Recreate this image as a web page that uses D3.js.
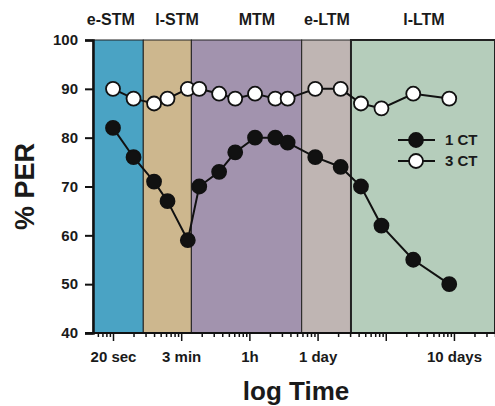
<!DOCTYPE html>
<html>
<head>
<meta charset="utf-8">
<script src="https://cdn.jsdelivr.net/npm/d3@7"></script>
<style>
  body { margin: 0; background: #fff; }
  svg text { font-family: "Liberation Sans", Arial, sans-serif; font-weight: bold; fill: #1a1a1a; }
</style>
</head>
<body>
<svg width="495" height="406"></svg>
<script>
// time points (log axis units, 1 = "20 sec" decade)
var times = [1, 2, 4, 6.3, 12.5, 18.4, 36, 62, 121, 240, 364, 925, 2180, 4330, 8650, 25300, 85300];
var ct1 = [82, 76, 71, 67, 59, 70, 73, 77, 80, 80, 79, 76, 74, 70, 62, 55, 50];
var ct3 = [90, 88, 87, 88, 90, 90, 89, 88, 89, 88, 88, 90, 90, 87, 86, 89, 88];

// memory phases
var phaseNames = ["e-STM", "l-STM", "MTM", "e-LTM", "l-LTM"];
var phaseEdges = [0.509, 2.78, 14.1, 585, 3090, 400000];
var phaseLabelAt = [0.93, 8.7, 129, 1373, 36300];
var phaseColors = ["#4aa3c4", "#cdb78e", "#a293ae", "#bfb5b3", "#b5cdbb"];

var xTickValues = [1, 10, 100, 1000, 10000, 100000];
var xTickLabels = ["20 sec", "3 min", "1h", "1 day", "", "10 days"];
var yTicks = [40, 50, 60, 70, 80, 90, 100];

var svg = d3.select("svg"),
    margin = {top: 40, right: 0, bottom: 73, left: 93},
    width = +svg.attr("width"),
    height = +svg.attr("height");

var x = d3.scaleLog()
    .domain([phaseEdges[0], phaseEdges[phaseEdges.length - 1]])
    .range([margin.left, width - margin.right]);

var y = d3.scaleLinear()
    .domain([40, 100])
    .range([height - margin.bottom, margin.top]);

// phase background bands
var phases = phaseNames.map(function(name, i) {
    return {name: name, from: phaseEdges[i], to: phaseEdges[i + 1], at: phaseLabelAt[i], color: phaseColors[i]};
});

svg.append("g")
    .selectAll("rect")
    .data(phases)
    .enter().append("rect")
    .attr("x", function(d) { return x(d.from); })
    .attr("y", y(100))
    .attr("width", function(d) { return x(d.to) - x(d.from); })
    .attr("height", y(40) - y(100))
    .attr("fill", function(d) { return d.color; })
    .attr("stroke", "#222")
    .attr("stroke-width", function(d, i) { return i == 4 ? 2 : 1; });

svg.append("g")
    .selectAll("text")
    .data(phases)
    .enter().append("text")
    .attr("x", function(d) { return x(d.at); })
    .attr("y", 25)
    .attr("text-anchor", "middle")
    .style("font-size", "16px")
    .text(function(d) { return d.name; });

// axes
var minorTicks = [];
d3.range(-1, 6).forEach(function(k) {
    d3.range(2, 10).forEach(function(m) {
        var v = m * Math.pow(10, k);
        if (v >= x.domain()[0] && v <= x.domain()[1]) minorTicks.push(v);
    });
});

var gx = svg.append("g")
    .attr("transform", "translate(0," + y(40) + ")");

gx.append("g")
    .call(d3.axisBottom(x).tickValues(minorTicks).tickSize(4).tickFormat(""))
    .call(function(g) { g.select(".domain").remove(); });

gx.append("g")
    .call(d3.axisBottom(x).tickValues(xTickValues).tickSize(8).tickPadding(10)
        .tickFormat(function(d, i) { return xTickLabels[i]; }))
    .call(function(g) { g.select(".domain").remove(); });

gx.append("line")
    .attr("x1", margin.left - 8)
    .attr("x2", width)
    .attr("stroke", "#111")
    .attr("stroke-width", 2);

gx.selectAll(".tick line").attr("stroke", "#111").attr("stroke-width", 1.5);
gx.selectAll(".tick text").style("font-size", "15px").attr("fill", "#1a1a1a");

var gy = svg.append("g")
    .attr("transform", "translate(" + margin.left + ",0)")
    .call(d3.axisLeft(y).tickValues(yTicks).tickSize(8).tickPadding(7));

gy.select(".domain").attr("stroke", "#111").attr("stroke-width", 2.5);
gy.selectAll(".tick line").attr("stroke", "#111").attr("stroke-width", 2);
gy.selectAll(".tick text").style("font-size", "15px").attr("fill", "#1a1a1a");

// axis titles
svg.append("text")
    .attr("transform", "translate(34," + ((y(40) + y(100)) / 2) + ") rotate(-90)")
    .attr("text-anchor", "middle")
    .style("font-size", "27px")
    .text("% PER");

svg.append("text")
    .attr("x", (x.range()[0] + x.range()[1]) / 2 + 2)
    .attr("y", 400)
    .attr("text-anchor", "middle")
    .style("font-size", "26px")
    .text("log Time");

// series
var series = [
    {key: "1 CT", values: ct1, fill: "#111"},
    {key: "3 CT", values: ct3, fill: "#fff"}
];

var line = d3.line()
    .x(function(d) { return x(d[0]); })
    .y(function(d) { return y(d[1]); });

series.forEach(function(s) {
    var pts = times.map(function(t, i) { return [t, s.values[i]]; });
    svg.append("path")
        .datum(pts)
        .attr("d", line)
        .attr("fill", "none")
        .attr("stroke", "#111")
        .attr("stroke-width", 2);
    svg.append("g")
        .selectAll("circle")
        .data(pts)
        .enter().append("circle")
        .attr("cx", function(d) { return x(d[0]); })
        .attr("cy", function(d) { return y(d[1]); })
        .attr("r", 7)
        .attr("fill", s.fill)
        .attr("stroke", "#111")
        .attr("stroke-width", 1.8);
});

// legend
var legend = svg.append("g")
    .selectAll("g")
    .data(series)
    .enter().append("g")
    .attr("transform", function(d, i) { return "translate(398," + (140 + i * 21) + ")"; });

legend.append("line")
    .attr("x1", 0).attr("x2", 37)
    .attr("stroke", "#111").attr("stroke-width", 2);
legend.append("circle")
    .attr("cx", 18).attr("r", 7)
    .attr("fill", function(d) { return d.fill; })
    .attr("stroke", "#111").attr("stroke-width", 1.8);
legend.append("text")
    .attr("x", 47)
    .attr("dy", "0.36em")
    .style("font-size", "15px")
    .text(function(d) { return d.key; });
</script>
</body>
</html>
